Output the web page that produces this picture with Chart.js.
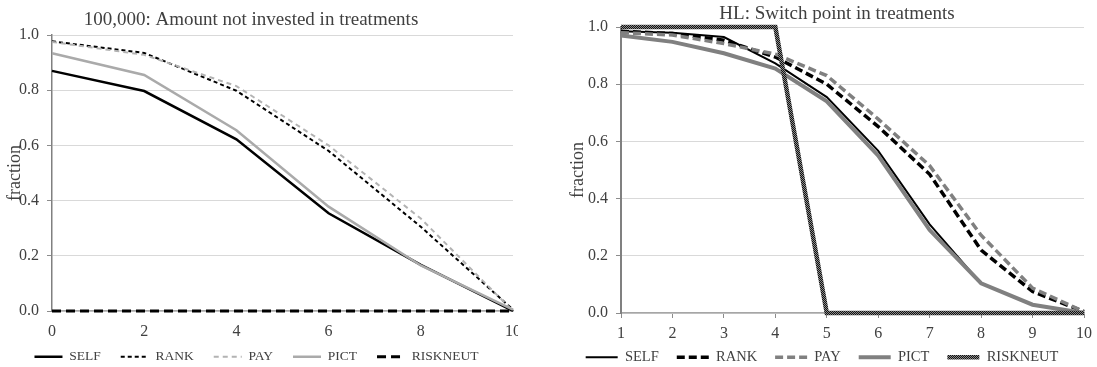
<!DOCTYPE html>
<html>
<head>
<meta charset="utf-8">
<script src="https://cdn.jsdelivr.net/npm/chart.js@4.4.1/dist/chart.umd.min.js"></script>
<style>
  body { margin: 0; background: #fff; }
  #left { position: absolute; left: 0; top: 0; }
  #right { position: absolute; left: 560px; top: 0; }
</style>
</head>
<body>
<canvas id="left" width="518" height="367"></canvas>
<canvas id="right" width="537" height="367"></canvas>
<script>
// left panel: 100,000 amount not invested
const leftLabels = ['0', '2', '4', '6', '8', '10'];
const leftSelf = [0.87, 0.797, 0.622, 0.354, 0.167, 0.0];
const leftRank = [0.977, 0.935, 0.798, 0.58, 0.305, 0.005];
const leftPay = [0.975, 0.928, 0.815, 0.60, 0.335, 0.0];
const leftPict = [0.934, 0.855, 0.655, 0.378, 0.165, 0.005];
const leftRiskneut = [0, 0, 0, 0, 0, 0];

// right panel: HL switch point
const rightLabels = ['1', '2', '3', '4', '5', '6', '7', '8', '9', '10'];
const rightSelf = [0.985, 0.98, 0.965, 0.873, 0.755, 0.567, 0.31, 0.103, 0.028, 0.0];
const rightRank = [0.985, 0.977, 0.954, 0.895, 0.80, 0.652, 0.485, 0.22, 0.075, 0.005];
const rightPay = [0.98, 0.972, 0.942, 0.905, 0.83, 0.678, 0.515, 0.272, 0.087, 0.005];
const rightPict = [0.97, 0.948, 0.908, 0.855, 0.74, 0.55, 0.29, 0.104, 0.029, 0.0];
const rightRiskneut = [1, 1, 1, 1, 0, 0, 0, 0, 0, 0];

const yTicks = [0, 0.2, 0.4, 0.6, 0.8, 1.0];

const serif = '"Liberation Serif", "DejaVu Serif", serif';
const textColor = '#404040';

// title drawn at a fixed spot, like the spreadsheet did
const sheetTitle = {
  id: 'sheetTitle',
  afterDraw(chart, args, opts) {
    const ctx = chart.ctx;
    ctx.save();
    ctx.font = '19px ' + serif;
    ctx.fillStyle = textColor;
    ctx.textAlign = 'center';
    ctx.textBaseline = 'middle';
    ctx.fillText(opts.text, opts.x, opts.y);
    ctx.restore();
  }
};

// x labels sit partly over the legend band, so don't clip them
const labelRoom = {
  id: 'labelRoom',
  afterLayout(chart) {
    chart.scales.x.bottom = chart.height;
  }
};

// textured stroke for the right RISKNEUT line
function makeHatch() {
  const pc = document.createElement('canvas');
  pc.width = 2; pc.height = 2;
  const g = pc.getContext('2d');
  g.fillStyle = '#111';
  g.fillRect(0, 0, 2, 2);
  g.fillStyle = '#8a8a8a';
  g.fillRect(0, 0, 1, 1);
  g.fillRect(1, 1, 1, 1);
  return g.createPattern(pc, 'repeat');
}

function line(label, data, color, width, dash, order) {
  return {
    label: label,
    data: data,
    borderColor: color,
    backgroundColor: color,
    borderWidth: width,
    borderDash: dash,
    pointRadius: 0,
    tension: 0,
    fill: false,
    clip: false,
    order: order
  };
}

// legend samples should use the dataset's own dash and width
function legendLabels(chart) {
  const items = Chart.defaults.plugins.legend.labels.generateLabels(chart);
  items.forEach(it => {
    const ds = chart.data.datasets[it.datasetIndex];
    it.lineDash = ds.borderDash;
    it.lineWidth = ds.borderWidth;
    it.strokeStyle = ds.borderColor;
    it.fillStyle = ds.borderColor;
  });
  return items;
}

function makeOptions(cfg) {
  return {
    responsive: false,
    animation: false,
    devicePixelRatio: 1,
    layout: { padding: { left: 0, right: cfg.padRight, top: cfg.padTop, bottom: 0 } },
    plugins: {
      sheetTitle: { text: cfg.title, x: cfg.titleX, y: cfg.titleY },
      tooltip: { enabled: false },
      legend: {
        position: 'bottom',
        maxHeight: cfg.legendPad + 17,
        labels: {
          usePointStyle: true,
          pointStyle: 'line',
          pointStyleWidth: cfg.sampleWidth,
          padding: cfg.legendPad,
          color: textColor,
          font: { family: serif, size: cfg.legendSize },
          generateLabels: legendLabels,
          sort: (a, b) => a.datasetIndex - b.datasetIndex
        }
      }
    },
    scales: {
      x: {
        type: 'category',
        offset: false,
        grid: {
          drawOnChartArea: false,
          drawTicks: cfg.xTicks,
          tickLength: 5,
          tickColor: '#8c8c8c'
        },
        border: { display: true, color: '#a6a6a6', width: 1.5 },
        ticks: {
          color: textColor,
          padding: cfg.xTicks ? 6 : 11,
          maxRotation: 0,
          autoSkip: false,
          font: { family: serif, size: 16 }
        },
        afterFit: (scale) => { scale.height = 19; scale.paddingRight = 0; scale.paddingLeft = 0; }
      },
      y: {
        min: 0,
        max: 1,
        afterBuildTicks: (scale) => { scale.ticks = yTicks.map(v => ({ value: v })); },
        grid: { color: '#d9d9d9', lineWidth: 1, tickLength: 5, tickColor: '#8c8c8c' },
        border: { display: true, color: '#808080', width: cfg.yAxisWidth },
        ticks: {
          color: textColor,
          padding: 8,
          font: { family: serif, size: 16 },
          callback: (v) => Number(v).toFixed(1)
        },
        title: {
          display: true,
          text: 'fraction',
          color: textColor,
          padding: { top: cfg.yTitlePad, bottom: 0 },
          font: { family: serif, size: 18 }
        },
        afterFit: (scale) => { scale.width = cfg.yWidth; }
      }
    }
  };
}

new Chart(document.getElementById('left'), {
  type: 'line',
  data: {
    labels: leftLabels,
    datasets: [
      line('SELF', leftSelf, '#000000', 2.5, [], 5),
      line('RANK', leftRank, '#000000', 2, [4, 3], 4),
      line('PAY', leftPay, '#b3b3b3', 2, [5, 4], 3),
      line('PICT', leftPict, '#aaaaaa', 2.5, [], 2),
      line('RISKNEUT', leftRiskneut, '#000000', 3, [9, 5], 1)
    ]
  },
  options: makeOptions({
    title: '100,000: Amount not invested in treatments',
    titleX: 251, titleY: 20,
    padTop: 35, padRight: 5,
    yWidth: 52, yTitlePad: 4, yAxisWidth: 1.5,
    xTicks: false,
    legendPad: 20, legendSize: 13.5, sampleWidth: 28
  }),
  plugins: [sheetTitle, labelRoom]
});

new Chart(document.getElementById('right'), {
  type: 'line',
  data: {
    labels: rightLabels,
    datasets: [
      line('SELF', rightSelf, '#000000', 2, [], 5),
      line('RANK', rightRank, '#000000', 3.5, [8, 4], 4),
      line('PAY', rightPay, '#808080', 3.5, [8, 4], 3),
      line('PICT', rightPict, '#808080', 4, [], 2),
      line('RISKNEUT', rightRiskneut, makeHatch(), 4.5, [], 1)
    ]
  },
  options: makeOptions({
    title: 'HL: Switch point in treatments',
    titleX: 277, titleY: 14,
    padTop: 27, padRight: 13,
    yWidth: 61, yTitlePad: 7, yAxisWidth: 2,
    xTicks: true,
    legendPad: 18, legendSize: 14.5, sampleWidth: 32
  }),
  plugins: [sheetTitle, labelRoom]
});
</script>
</body>
</html>
